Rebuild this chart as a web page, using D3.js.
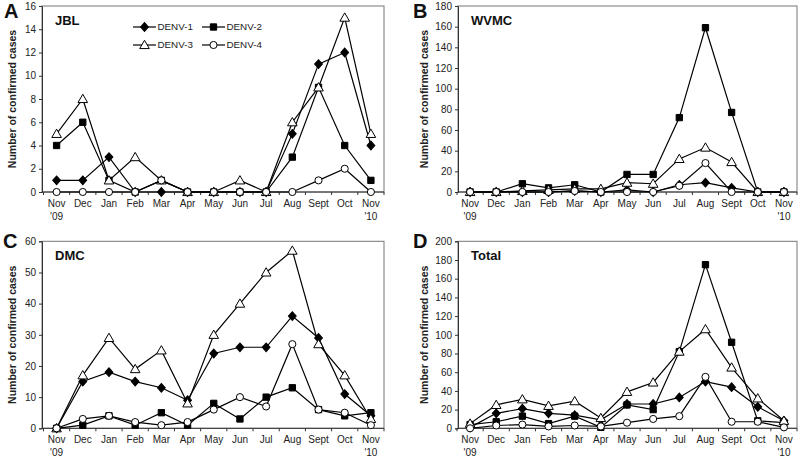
<!DOCTYPE html>
<html><head><meta charset="utf-8">
<script src="https://cdn.jsdelivr.net/npm/d3@7"></script>
<style>
body{margin:0;background:#fff;}
svg{display:block;font-family:"Liberation Sans",Arial,sans-serif;}
</style></head>
<body><svg id="c" width="800" height="457"></svg>
<script>
const months = ["Nov","Dec","Jan","Feb","Mar","Apr","May","Jun","Jul","Aug","Sept","Oct","Nov"];
const years = ["'09","","","","","","","","","","","","'10"];
const seriesNames = ["DENV-1","DENV-2","DENV-3","DENV-4"];

const jbl_d1 = [1,1,3,0,0,0,0,0,0,5,11,12,4];
const jbl_d2 = [4,6,1,0,1,0,0,0,0,3,9,4,1];
const jbl_d3 = [5,8,1,3,1,0,0,1,0,6,9,15,5];
const jbl_d4 = [0,0,0,0,1,0,0,0,0,0,1,2,0];

const wvmc_d1 = [0,0,0,0,1,0,2,0,7,9,4,0,0];
const wvmc_d2 = [0,0,8,4,7,0,17,17,72,159,77,0,0];
const wvmc_d3 = [0,0,1,2,3,3,9,8,32,43,29,0,0];
const wvmc_d4 = [0,0,0,0,1,0,0,0,6,28,0,0,0];

const dmc_d1 = [0,15,18,15,13,9,24,26,26,36,29,11,4];
const dmc_d2 = [0,1,4,1,5,1,8,3,10,13,6,4,5];
const dmc_d3 = [0,17,29,19,25,8,30,40,50,57,27,17,3];
const dmc_d4 = [0,3,4,2,1,2,6,10,7,27,6,5,1];

const total_d1 = [1,16,21,16,14,9,26,26,33,50,44,23,8];
const total_d2 = [4,7,13,5,13,1,25,20,82,175,92,8,6];
const total_d3 = [5,25,31,24,29,11,39,49,82,106,65,32,8];
const total_d4 = [0,3,4,2,3,2,6,10,13,55,7,7,1];

const yTicksA = [0,2,4,6,8,10,12,14,16];
const yTicksB = [0,20,40,60,80,100,120,140,160,180];
const yTicksC = [0,10,20,30,40,50,60];
const yTicksD = [0,20,40,60,80,100,120,140,160,180,200];

const panels = [
  {letter:"A", title:"JBL", series:[jbl_d1,jbl_d2,jbl_d3,jbl_d4], ticks:yTicksA, ymax:16,
   ax:42, x0:43.5, x1:384, y0:6, y1:192, lx:4, ly:18, labX:12, legend:true},
  {letter:"B", title:"WVMC", series:[wvmc_d1,wvmc_d2,wvmc_d3,wvmc_d4], ticks:yTicksB, ymax:180,
   ax:458, x0:457, x1:797, y0:6, y1:192, lx:413, ly:18, labX:424},
  {letter:"C", title:"DMC", series:[dmc_d1,dmc_d2,dmc_d3,dmc_d4], ticks:yTicksC, ymax:60,
   ax:42, x0:43.5, x1:384, y0:241.3, y1:428.3, lx:3, ly:248, labX:12},
  {letter:"D", title:"Total", series:[total_d1,total_d2,total_d3,total_d4], ticks:yTicksD, ymax:200,
   ax:458, x0:457, x1:797, y0:241.3, y1:428.3, lx:413, ly:248, labX:424}
];

const svg = d3.select("#c");
const sym = [d3.symbolSquare, d3.symbolSquare, d3.symbolTriangle, d3.symbolCircle];
const symSize = [30, 40, 40, 40];
const fills = ["#000","#000","#fff","#fff"];

function drawMarker(g, k, x, y) {
  let s = d3.symbol().type(sym[k]).size(symSize[k]);
  let extra = k === 0 ? " scale(1,1.12) rotate(45)" : (k === 2 ? " translate(0,0.8)" : "");
  g.append("path").attr("d", s())
    .attr("transform", `translate(${x},${y})` + extra)
    .attr("fill", fills[k]).attr("stroke","#000").attr("stroke-width", 1);
}

panels.forEach(p => {
  const g = svg.append("g");
  const idx = d3.range(months.length);
  const x = d3.scaleBand().domain(idx).range([p.x0, p.x1]).padding(0);
  const cx = i => x(i) + x.bandwidth()/2;
  const y = d3.scaleLinear().domain([0, p.ymax]).range([p.y1, p.y0]);

  g.append("rect").attr("x", p.ax).attr("y", p.y0).attr("width", p.x1 - p.ax).attr("height", p.y1 - p.y0)
    .attr("fill","none").attr("stroke","#777").attr("stroke-width",1);

  const ya = g.append("g").attr("transform", `translate(${p.ax},0)`)
    .call(d3.axisLeft(y).tickValues(p.ticks).tickSize(3).tickPadding(3));
  ya.select(".domain").attr("stroke","#333");
  ya.selectAll("text").attr("font-size","10px").attr("fill","#222").attr("font-family","Liberation Sans, Arial, sans-serif");
  ya.selectAll("line").attr("stroke","#333");

  const xa = g.append("g").attr("transform", `translate(0,${p.y1})`)
    .call(d3.axisBottom(x).tickSize(0).tickPadding(8).tickFormat(i => months[i]));
  xa.select(".domain").remove();
  xa.selectAll("text").attr("font-size","10px").attr("fill","#222").attr("font-family","Liberation Sans, Arial, sans-serif")
    .each(function(i){
      if (years[i]) d3.select(this).append("tspan").attr("x",0).attr("dy","1.25em").text(years[i]);
    });
  g.append("line").attr("x1", p.ax).attr("x2", p.x1).attr("y1", p.y1).attr("y2", p.y1).attr("stroke","#333");
  g.selectAll(".bt").data(d3.range(months.length + 1)).enter().append("line")
    .attr("x1", i => i < months.length ? x(i) : p.x1)
    .attr("x2", i => i < months.length ? x(i) : p.x1)
    .attr("y1", p.y1).attr("y2", p.y1 + 3).attr("stroke","#333");

  g.append("text").attr("transform", `translate(${p.labX},${(p.y0+p.y1)/2}) rotate(-90)`)
    .attr("text-anchor","middle").attr("dy","0.35em").attr("font-size","10.5px").attr("font-weight","bold")
    .attr("fill","#222").text("Number of confirmed cases");

  svg.append("text").attr("x", p.lx).attr("y", p.ly).attr("font-size","20px").attr("font-weight","bold")
    .attr("fill","#111").text(p.letter);
  g.append("text").attr("x", p.ax + 13).attr("y", p.y0 + 19).attr("font-size","13px").attr("font-weight","bold")
    .attr("fill","#111").text(p.title);

  const line = d3.line().x((d,i) => cx(i)).y(d => y(d));
  p.series.forEach((s, k) => {
    g.append("path").datum(s).attr("d", line).attr("fill","none").attr("stroke","#000").attr("stroke-width",1.2);
    s.forEach((v, i) => drawMarker(g, k, cx(i), y(v)));
  });

  if (p.legend) {
    const lg = g.append("g");
    const pos = [[133,27],[202,27],[133,45],[202,45]];
    seriesNames.forEach((n, k) => {
      const [lx, ly] = pos[k];
      lg.append("line").attr("x1", lx).attr("x2", lx + 23).attr("y1", ly).attr("y2", ly)
        .attr("stroke","#000").attr("stroke-width",1.2);
      drawMarker(lg, k, lx + 11.5, ly);
      lg.append("text").attr("x", lx + 24.5).attr("y", ly).attr("dy","0.35em")
        .attr("font-size","9.8px").attr("fill","#222").text(n);
    });
  }
});
</script></body></html>
